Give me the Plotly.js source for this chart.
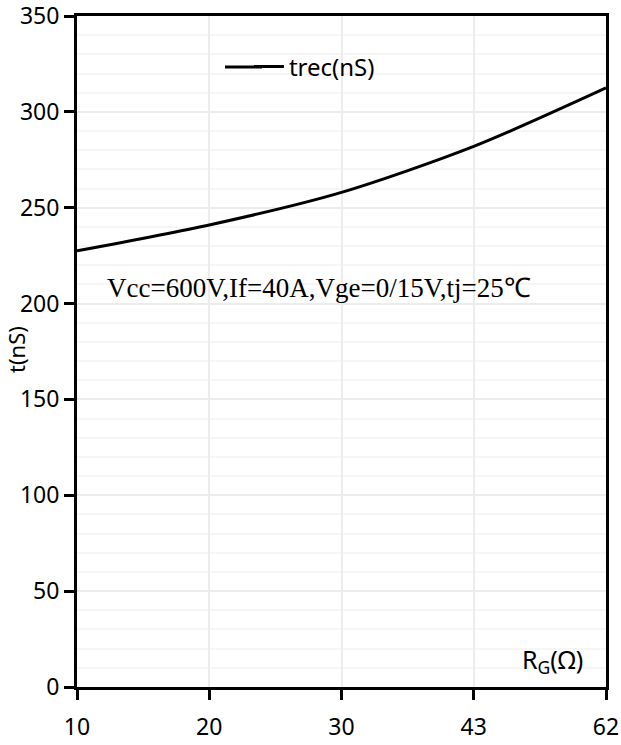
<!DOCTYPE html>
<html>
<head>
<meta charset="utf-8">
<script src="https://cdn.plot.ly/plotly-3.0.1.min.js"></script>
<style>html,body{margin:0;padding:0;background:#fff}#chart{width:621px;height:745px}</style>
</head>
<body>
<div id="chart"></div>
<script>
var rgCategories = ['10', '20', '30', '43', '62'];
var trecValues = [227.5, 241, 258, 282, 312.5];
var seriesName = 'trec(nS)';
var conditionText = 'Vcc=600V,If=40A,Vge=0/15V,tj=25℃';
var yTickValues = [0, 50, 100, 150, 200, 250, 300, 350];

var sansFamily = 'Noto Sans, Open Sans, sans-serif';
var tickFont = {family: sansFamily, size: 23, color: '#000'};
var labelFont = {family: sansFamily, size: 24, color: '#000'};

var data = [{
  type: 'scatter',
  mode: 'lines',
  x: rgCategories,
  y: trecValues,
  name: seriesName,
  line: {color: '#000', width: 3, shape: 'spline', smoothing: 0.8}
}];

var layout = {
  width: 621,
  height: 745,
  margin: {l: 77, r: 15, t: 16, b: 58},
  paper_bgcolor: '#fff',
  plot_bgcolor: '#fff',
  showlegend: true,
  legend: {
    x: 0.325, y: 0.924, xanchor: 'left', yanchor: 'middle',
    bgcolor: 'rgba(0,0,0,0)',
    font: labelFont
  },
  xaxis: {
    type: 'category',
    categoryorder: 'array',
    categoryarray: rgCategories,
    range: [0, 4],
    showline: true, linecolor: '#000', linewidth: 3, mirror: true,
    ticks: 'outside', ticklen: 10, tickwidth: 3, tickcolor: '#000',
    showgrid: true, gridcolor: '#ececec', gridwidth: 2,
    zeroline: false,
    tickfont: tickFont,
    ticklabelstandoff: 7,
    ticklabeloverflow: 'allow'
  },
  yaxis: {
    range: [0, 350],
    tickvals: yTickValues,
    showline: true, linecolor: '#000', linewidth: 3, mirror: true,
    ticks: 'outside', ticklen: 10, tickwidth: 3, tickcolor: '#000',
    showgrid: true, gridcolor: '#ececec', gridwidth: 2,
    minor: {dtick: 10, showgrid: true, gridcolor: '#f6f6f6', gridwidth: 2, ticks: ''},
    zeroline: false,
    tickfont: tickFont,
    ticklabeloverflow: 'allow',
    automargin: false
  },
  shapes: [
    {type: 'line', xref: 'paper', yref: 'paper', x0: (225 - 77) / 529, x1: (262 - 77) / 529,
     y0: 0.924, y1: 0.924, line: {color: '#000', width: 3}}
  ],
  annotations: [
    {
      xref: 'paper', yref: 'paper', x: 0.457, y: 0.595,
      xanchor: 'center', yanchor: 'middle', showarrow: false,
      text: conditionText,
      font: {family: 'Liberation Serif, Times New Roman, serif', size: 27, color: '#000'}
    },
    {
      xref: 'paper', yref: 'paper', x: 0.96, y: 0.04,
      xanchor: 'right', yanchor: 'middle', showarrow: false,
      text: 'R<sub>G</sub>(Ω)',
      font: {family: sansFamily, size: 25, color: '#000'}
    },
    {
      xref: 'paper', yref: 'paper', x: (16 - 77) / 529, y: (687 - 350) / 671,
      xanchor: 'center', yanchor: 'middle', showarrow: false,
      textangle: -90,
      text: 't(nS)',
      font: {family: sansFamily, size: 22, color: '#000'}
    }
  ]
};

Plotly.newPlot('chart', data, layout, {displayModeBar: false, staticPlot: true});
</script>
</body>
</html>
